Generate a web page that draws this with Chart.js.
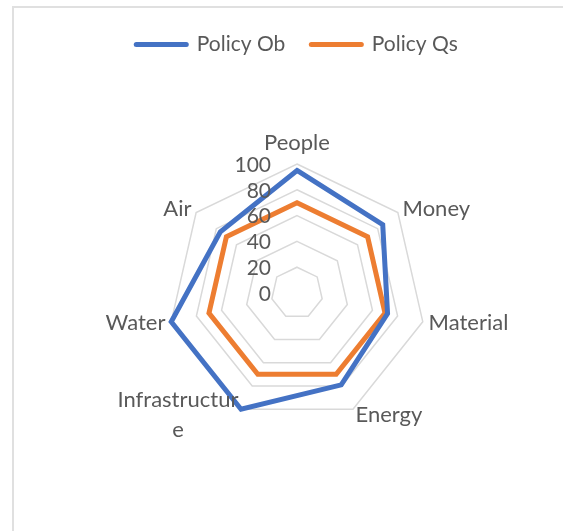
<!DOCTYPE html>
<html>
<head>
<meta charset="utf-8">
<script src="https://cdn.jsdelivr.net/npm/chart.js@4.4.0/dist/chart.umd.min.js"></script>
<style>
  html, body { margin: 0; padding: 0; background: #fff; overflow: hidden; }
  #frame { position: absolute; left: 12px; top: 6px; width: 620px; height: 620px; border: 2px solid #e0e0e0; }
  #wrap { position: absolute; left: 0; top: 0; width: 563px; height: 531px; }
</style>
</head>
<body>
<div id="frame"></div>
<div id="wrap"><canvas id="radar"></canvas></div>
<script>
// categories around the web (long one wraps onto two lines)
const categories = ['People', 'Money', 'Material', 'Energy', ['Infrastructur', 'e'], 'Water', 'Air'];
const policyOb = [95, 85, 72, 79, 100, 100, 76];
const policyQs = [70, 70, 70, 70, 70, 70, 70];
const tickMin = 0;
const tickMax = 100;
const tickStep = 20;

const blue = '#4472C4';
const orange = '#ED7D31';
const textColor = '#595959';
const fontFamily = 'Lato, sans-serif';
const fontSize = 21;
const catFontSize = 22;

// draws the value ticks and the category names ourselves so they sit like the office style
const radarText = {
    id: 'radarText',
    beforeInit(chart) {
        // leave a gap between the legend and the web
        const fit = chart.legend.fit;
        chart.legend.fit = function () {
            fit.call(this);
            this.height += 99;
        };
    },
    afterDatasetsDraw(chart) {
        const scale = chart.scales.r;
        const ctx = chart.ctx;
        ctx.save();
        ctx.font = fontSize + 'px ' + fontFamily;
        ctx.fillStyle = textColor;

        ctx.textAlign = 'right';
        ctx.textBaseline = 'middle';
        for (let tick of scale.ticks) {
            const y = scale.yCenter - scale.getDistanceFromCenterForValue(tick.value);
            ctx.fillText(String(tick.value), scale.xCenter - 26, y + 1);
        }

        const lineH = 30;
        ctx.font = catFontSize + 'px ' + fontFamily;
        ctx.textAlign = 'center';
        chart.data.labels.forEach((label, i) => {
            const lines = [].concat(label);
            const pos = scale.getPointPosition(i, scale.drawingArea + 6);
            const deg = Math.round(scale.getIndexAngle(i) * 180 / Math.PI) % 360;
            const w = Math.max(...lines.map(l => ctx.measureText(l).width));
            let cx = pos.x;
            if (deg > 0 && deg < 180) cx = pos.x + w / 2;
            if (deg > 180) cx = pos.x - w / 2;
            const top = deg === 0 ? pos.y - lines.length * lineH : pos.y - lines.length * lineH / 2;
            lines.forEach((line, k) => {
                ctx.fillText(line, cx, top + lineH * k + lineH / 2);
            });
        });
        ctx.restore();
    }
};

const ctx = document.getElementById('radar').getContext('2d');
new Chart(ctx, {
    type: 'radar',
    data: {
        labels: categories,
        datasets: [{
            label: 'Policy Ob',
            data: policyOb,
            borderColor: blue,
            backgroundColor: blue,
            pointBorderColor: blue,
            pointBorderWidth: 5,
            borderWidth: 5,
            borderJoinStyle: 'miter',
            pointRadius: 0,
            pointHoverRadius: 0,
            fill: false
        }, {
            label: 'Policy Qs',
            data: policyQs,
            borderColor: orange,
            backgroundColor: orange,
            pointBorderColor: orange,
            pointBorderWidth: 5,
            borderWidth: 5,
            borderJoinStyle: 'miter',
            pointRadius: 0,
            pointHoverRadius: 0,
            fill: false
        }]
    },
    options: {
        responsive: true,
        maintainAspectRatio: false,
        animation: false,
        layout: {
            padding: { left: 31, right: 0, top: 8, bottom: 108 }
        },
        plugins: {
            legend: {
                position: 'top',
                labels: {
                    usePointStyle: true,
                    pointStyle: 'line',
                    pointStyleWidth: 50,
                    padding: 26,
                    color: textColor,
                    font: { family: fontFamily, size: fontSize },
                    generateLabels(chart) {
                        const items = Chart.defaults.plugins.legend.labels.generateLabels(chart);
                        return items.map(item => Object.assign(item, {
                            strokeStyle: chart.data.datasets[item.datasetIndex].borderColor,
                            lineWidth: 5,
                            lineCap: 'round'
                        }));
                    }
                }
            },
            tooltip: { enabled: false }
        },
        scales: {
            r: {
                min: tickMin,
                max: tickMax,
                ticks: { stepSize: tickStep, display: false },
                grid: { color: '#d9d9d9', lineWidth: 1.5 },
                angleLines: { display: false },
                pointLabels: { display: false }
            }
        }
    },
    plugins: [radarText]
});
</script>
</body>
</html>
